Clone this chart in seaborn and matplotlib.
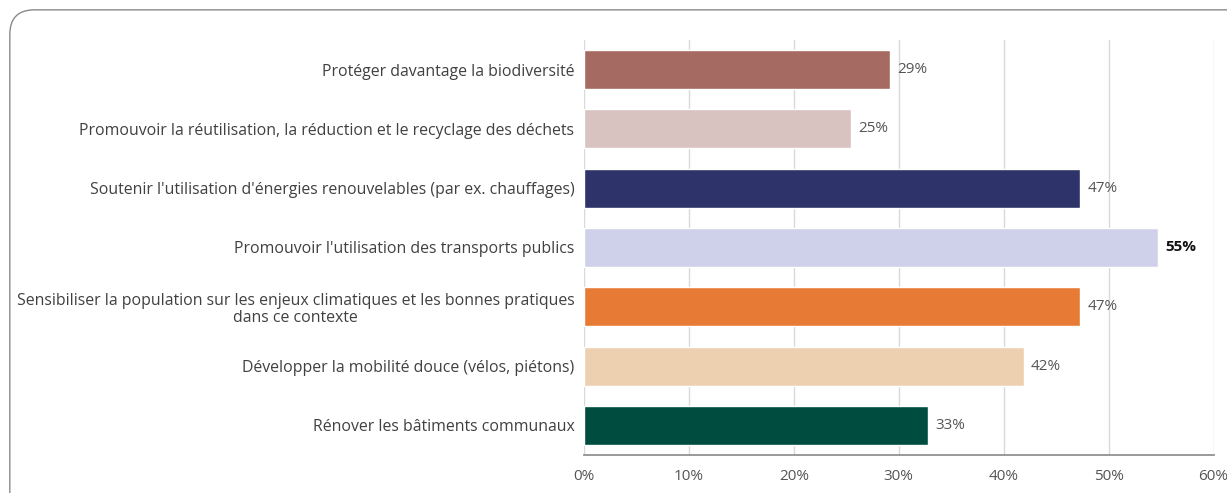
import matplotlib
matplotlib.use("Agg")
import matplotlib.pyplot as plt
import seaborn as sns
import pandas as pd
from matplotlib.patches import FancyBboxPatch

# Données
actions = [
    "Protéger davantage la biodiversité",
    "Promouvoir la réutilisation, la réduction et le recyclage des déchets",
    "Soutenir l'utilisation d'énergies renouvelables (par ex. chauffages)",
    "Promouvoir l'utilisation des transports publics",
    "Sensibiliser la population sur les enjeux climatiques et les bonnes pratiques\ndans ce contexte",
    "Développer la mobilité douce (vélos, piétons)",
    "Rénover les bâtiments communaux",
]
pourcentages = [29.2, 25.4, 47.3, 54.7, 47.3, 41.9, 32.8]
couleurs = ["#A56B62", "#D9C3C1", "#2E3469", "#CFD1EA", "#E77B35", "#EDD0B0", "#004C3F"]
ticks_x = [0, 10, 20, 30, 40, 50, 60]

df = pd.DataFrame({"action": actions, "pct": pourcentages})

sns.set_theme(style="white")
plt.rcParams["font.family"] = ["Open Sans", "DejaVu Sans"]

fig = plt.figure(figsize=(12.27, 4.93), dpi=100)
ax = fig.add_axes([0.476, 0.077, 0.513, 0.842])

# cadre arrondi
cadre = FancyBboxPatch((0.008, -0.05), 1.1, 1.03, boxstyle="round,pad=0,rounding_size=0.02",
                       transform=fig.transFigure, facecolor="none", edgecolor="#8a8a8a",
                       linewidth=1.0, mutation_aspect=2.5, zorder=0)
fig.patches.append(cadre)

sns.barplot(data=df, x="pct", y="action", hue="action", palette=couleurs, legend=False,
            width=0.66, ax=ax, zorder=3, saturation=1)

ax.set_xlim(0, 60)
ax.set_ylim(6.5, -0.5)
ax.set_xticks(ticks_x)
ax.set_xticklabels([f"{t}%" for t in ticks_x], fontsize=11, color="#555555")
ax.set_xlabel("")
ax.set_ylabel("")
ax.xaxis.grid(True, color="#d9d9d9", linewidth=1, zorder=0)
ax.set_axisbelow(True)

for s in ["top", "right", "left"]:
    ax.spines[s].set_visible(False)
ax.spines["bottom"].set_color("#8c8c8c")
ax.tick_params(axis="x", direction="inout", length=8, width=1, color="#8c8c8c", pad=6)
ax.tick_params(axis="y", length=0, pad=7)
for lab in ax.get_yticklabels():
    lab.set_fontsize(11.4)
    lab.set_color("#404040")
    lab.set_multialignment("center")
    lab.set_linespacing(1.1)

# étiquettes de valeur
for i, v in enumerate(pourcentages):
    gras = v == max(pourcentages)
    ax.text(v + 0.7, i, f"{round(v)}%", va="center", ha="left", fontsize=11,
            color="#111111" if gras else "#555555", fontweight="bold" if gras else "normal")

fig.savefig("out.png", dpi=100)
